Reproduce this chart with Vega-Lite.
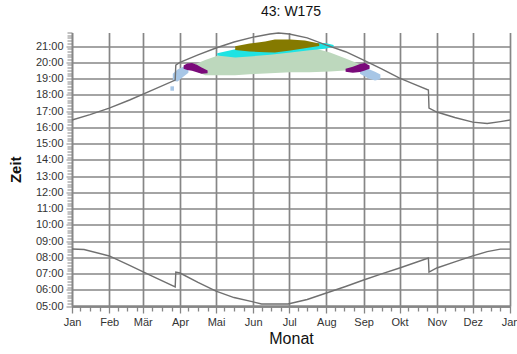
{
  "$schema": "https://vega.github.io/schema/vega-lite/v6.json",
  "autosize": {"type": "none"},
  "width": 438,
  "height": 273.5,
  "padding": {"left": 72, "top": 32.5, "right": 7, "bottom": 48},
  "background": "white",
  "title": {"text": "43: W175", "fontSize": 14, "fontWeight": "normal", "font": "Liberation Sans", "color": "#111", "anchor": "middle", "offset": 8},
  "config": {
    "view": {"stroke": null},
    "axis": {"labelFont": "Liberation Sans", "titleFont": "Liberation Sans", "labelColor": "#333", "titleColor": "#111", "gridColor": "#868686", "gridWidth": 1.7, "tickColor": "#868686", "domainColor": "#868686", "zindex": 1}
  },
  "datasets": {
    "sun": [
      {"d": 0, "t": 16.45, "k": "set"}, {"d": 15, "t": 16.78, "k": "set"}, {"d": 31, "t": 17.18, "k": "set"}, {"d": 48, "t": 17.68, "k": "set"}, {"d": 65, "t": 18.22, "k": "set"}, {"d": 86, "t": 18.9, "k": "set"}, {"d": 86.5, "t": 19.83, "k": "set"}, {"d": 90, "t": 20.0, "k": "set"}, {"d": 105, "t": 20.45, "k": "set"}, {"d": 120, "t": 20.88, "k": "set"}, {"d": 135, "t": 21.25, "k": "set"}, {"d": 151, "t": 21.55, "k": "set"}, {"d": 165, "t": 21.74, "k": "set"}, {"d": 172, "t": 21.8, "k": "set"}, {"d": 181, "t": 21.74, "k": "set"}, {"d": 196, "t": 21.5, "k": "set"}, {"d": 212, "t": 21.06, "k": "set"}, {"d": 228, "t": 20.65, "k": "set"}, {"d": 243, "t": 20.14, "k": "set"}, {"d": 258, "t": 19.6, "k": "set"}, {"d": 273, "t": 19.03, "k": "set"}, {"d": 285, "t": 18.65, "k": "set"}, {"d": 297, "t": 18.29, "k": "set"}, {"d": 297.5, "t": 17.18, "k": "set"}, {"d": 304, "t": 16.94, "k": "set"}, {"d": 319, "t": 16.6, "k": "set"}, {"d": 334, "t": 16.32, "k": "set"}, {"d": 346, "t": 16.23, "k": "set"}, {"d": 357, "t": 16.35, "k": "set"}, {"d": 365, "t": 16.45, "k": "set"},
      {"d": 0, "t": 8.51, "k": "rise"}, {"d": 10, "t": 8.48, "k": "rise"}, {"d": 31, "t": 8.08, "k": "rise"}, {"d": 48, "t": 7.5, "k": "rise"}, {"d": 65, "t": 6.9, "k": "rise"}, {"d": 86, "t": 6.17, "k": "rise"}, {"d": 86.5, "t": 7.09, "k": "rise"}, {"d": 90, "t": 7.03, "k": "rise"}, {"d": 105, "t": 6.45, "k": "rise"}, {"d": 120, "t": 5.92, "k": "rise"}, {"d": 135, "t": 5.52, "k": "rise"}, {"d": 151, "t": 5.25, "k": "rise"}, {"d": 158, "t": 5.12, "k": "rise"}, {"d": 180, "t": 5.12, "k": "rise"}, {"d": 196, "t": 5.4, "k": "rise"}, {"d": 212, "t": 5.8, "k": "rise"}, {"d": 228, "t": 6.2, "k": "rise"}, {"d": 243, "t": 6.6, "k": "rise"}, {"d": 258, "t": 6.98, "k": "rise"}, {"d": 273, "t": 7.34, "k": "rise"}, {"d": 297, "t": 7.95, "k": "rise"}, {"d": 297.5, "t": 7.09, "k": "rise"}, {"d": 304, "t": 7.34, "k": "rise"}, {"d": 319, "t": 7.72, "k": "rise"}, {"d": 334, "t": 8.08, "k": "rise"}, {"d": 346, "t": 8.35, "k": "rise"}, {"d": 357, "t": 8.5, "k": "rise"}, {"d": 365, "t": 8.5, "k": "rise"}
    ],
    "green": [
      {"d": 103, "a": 19.9, "b": 19.45}, {"d": 111, "a": 20.14, "b": 19.2}, {"d": 123, "a": 20.45, "b": 19.2}, {"d": 136, "a": 20.63, "b": 19.2}, {"d": 148, "a": 20.75, "b": 19.26}, {"d": 165, "a": 20.88, "b": 19.32}, {"d": 182, "a": 20.94, "b": 19.38}, {"d": 198, "a": 20.94, "b": 19.38}, {"d": 215, "a": 20.6, "b": 19.44}, {"d": 227.5, "a": 20.25, "b": 19.5}, {"d": 240, "a": 19.88, "b": 19.56}, {"d": 245, "a": 19.72, "b": 19.64}
    ],
    "cyan": [
      {"d": 121, "a": 20.55, "b": 20.42}, {"d": 136, "a": 20.8, "b": 20.3}, {"d": 148, "a": 20.95, "b": 20.36}, {"d": 165, "a": 21.06, "b": 20.46}, {"d": 182, "a": 21.12, "b": 20.6}, {"d": 198, "a": 21.18, "b": 20.74}, {"d": 211, "a": 21.18, "b": 20.84}, {"d": 218, "a": 21.06, "b": 20.94}
    ],
    "olive": [
      {"d": 136, "a": 20.98, "b": 20.76}, {"d": 148, "a": 21.16, "b": 20.66}, {"d": 161, "a": 21.28, "b": 20.62}, {"d": 169, "a": 21.4, "b": 20.6}, {"d": 182, "a": 21.4, "b": 20.72}, {"d": 194, "a": 21.34, "b": 20.86}, {"d": 206, "a": 21.16, "b": 21.0}
    ],
    "purple": [
      {"g": "l", "d": 93, "a": 19.8, "b": 19.6}, {"g": "l", "d": 96, "a": 19.92, "b": 19.52}, {"g": "l", "d": 100, "a": 19.95, "b": 19.48}, {"g": "l", "d": 104, "a": 19.85, "b": 19.38}, {"g": "l", "d": 108, "a": 19.68, "b": 19.3}, {"g": "l", "d": 113, "a": 19.5, "b": 19.32},
      {"g": "r", "d": 228, "a": 19.6, "b": 19.42}, {"g": "r", "d": 234, "a": 19.72, "b": 19.36}, {"g": "r", "d": 240, "a": 19.9, "b": 19.4}, {"g": "r", "d": 244, "a": 19.95, "b": 19.5}, {"g": "r", "d": 248, "a": 19.8, "b": 19.6}
    ],
    "blue": [
      {"g": "l", "d": 84, "a": 19.3, "b": 18.85}, {"g": "l", "d": 88, "a": 19.55, "b": 18.82}, {"g": "l", "d": 92.5, "a": 19.72, "b": 19.1}, {"g": "l", "d": 97, "a": 19.68, "b": 19.35},
      {"g": "r", "d": 240, "a": 19.55, "b": 19.3}, {"g": "r", "d": 247, "a": 19.58, "b": 19.0}, {"g": "r", "d": 252.5, "a": 19.42, "b": 18.88}, {"g": "r", "d": 257, "a": 19.25, "b": 18.95},
      {"g": "dot", "d": 82, "a": 18.52, "b": 18.25}, {"g": "dot", "d": 85, "a": 18.52, "b": 18.25}
    ]
  },
  "encoding": {
    "x": {"field": "d", "type": "quantitative",
      "scale": {"domain": [0, 365], "nice": false, "zero": false},
      "axis": {
        "title": "Monat", "titleFontSize": 16, "titleFontWeight": "normal", "titlePadding": 3,
        "labelFontSize": 11, "labelPadding": 3, "labelOverlap": false, "labelFlush": false, "labelBound": false,
        "domainWidth": 2.5, "tickWidth": 1.3,
        "values": [0, 7, 15, 23, 31, 38, 46, 54, 59, 67, 75, 83, 90, 97, 105, 113, 120, 127, 135, 143, 151, 158, 166, 174, 181, 188, 196, 204, 212, 219, 227, 235, 243, 250, 258, 266, 273, 280, 288, 296, 304, 311, 319, 327, 334, 341, 349, 357, 365],
        "labelExpr": "indexof([0,31,59,90,120,151,181,212,243,273,304,334,365], datum.value) >= 0 ? ['Jan','Feb','Mär','Apr','Mai','Jun','Jul','Aug','Sep','Okt','Nov','Dez','Jan'][indexof([0,31,59,90,120,151,181,212,243,273,304,334,365], datum.value)] : ''",
        "gridOpacity": {"condition": {"test": "indexof([0,31,59,90,120,151,181,212,243,273,304,334,365], datum.value) >= 0", "value": 1}, "value": 0},
        "tickSize": {"condition": {"test": "indexof([0,31,59,90,120,151,181,212,243,273,304,334,365], datum.value) >= 0", "value": 7}, "value": 5}
      }
    },
    "y": {"type": "quantitative",
      "scale": {"domain": [5, 21.8333], "nice": false, "zero": false},
      "axis": {
        "title": "Zeit", "titleFontSize": 15, "titleFontWeight": "bold", "titlePadding": 12,
        "labelFontSize": 11, "labelPadding": 3, "labelOverlap": false, "labelBound": false, "labelFlush": false,
        "tickWidth": 1, "domainWidth": 1.5,
        "values": [5, 5.1667, 5.3333, 5.5, 5.6667, 5.8333, 6, 6.1667, 6.3333, 6.5, 6.6667, 6.8333, 7, 7.1667, 7.3333, 7.5, 7.6667, 7.8333, 8, 8.1667, 8.3333, 8.5, 8.6667, 8.8333, 9, 9.1667, 9.3333, 9.5, 9.6667, 9.8333, 10, 10.1667, 10.3333, 10.5, 10.6667, 10.8333, 11, 11.1667, 11.3333, 11.5, 11.6667, 11.8333, 12, 12.1667, 12.3333, 12.5, 12.6667, 12.8333, 13, 13.1667, 13.3333, 13.5, 13.6667, 13.8333, 14, 14.1667, 14.3333, 14.5, 14.6667, 14.8333, 15, 15.1667, 15.3333, 15.5, 15.6667, 15.8333, 16, 16.1667, 16.3333, 16.5, 16.6667, 16.8333, 17, 17.1667, 17.3333, 17.5, 17.6667, 17.8333, 18, 18.1667, 18.3333, 18.5, 18.6667, 18.8333, 19, 19.1667, 19.3333, 19.5, 19.6667, 19.8333, 20, 20.1667, 20.3333, 20.5, 20.6667, 20.8333, 21, 21.1667, 21.3333, 21.5, 21.6667, 21.8333],
        "labelExpr": "datum.value == floor(datum.value) ? ((datum.value < 10 ? '0' : '') + datum.value + ':00') : ''",
        "gridOpacity": {"condition": {"test": "datum.value == floor(datum.value)", "value": 1}, "value": 0},
        "tickSize": {"condition": {"test": "datum.value == floor(datum.value)", "value": 6}, "value": 5}
      }
    }
  },
  "layer": [
    {"data": {"name": "green"}, "mark": {"type": "area", "color": "#bdd8bd", "opacity": 1}, "encoding": {"y": {"field": "a", "type": "quantitative"}, "y2": {"field": "b"}}},
    {"data": {"name": "cyan"}, "mark": {"type": "area", "color": "#1fe3e3", "opacity": 1}, "encoding": {"y": {"field": "a", "type": "quantitative"}, "y2": {"field": "b"}}},
    {"data": {"name": "olive"}, "mark": {"type": "area", "color": "#857a00", "opacity": 1}, "encoding": {"y": {"field": "a", "type": "quantitative"}, "y2": {"field": "b"}}},
    {"data": {"name": "blue"}, "mark": {"type": "area", "color": "#a7c6e6", "opacity": 1}, "encoding": {"y": {"field": "a", "type": "quantitative"}, "y2": {"field": "b"}, "detail": {"field": "g"}}},
    {"data": {"name": "purple"}, "mark": {"type": "area", "color": "#7a0a7a", "opacity": 1}, "encoding": {"y": {"field": "a", "type": "quantitative"}, "y2": {"field": "b"}, "detail": {"field": "g"}}},
    {"data": {"name": "sun"}, "mark": {"type": "line", "color": "#707070", "strokeWidth": 1.4}, "encoding": {"y": {"field": "t", "type": "quantitative"}, "detail": {"field": "k"}}}
  ]
}
